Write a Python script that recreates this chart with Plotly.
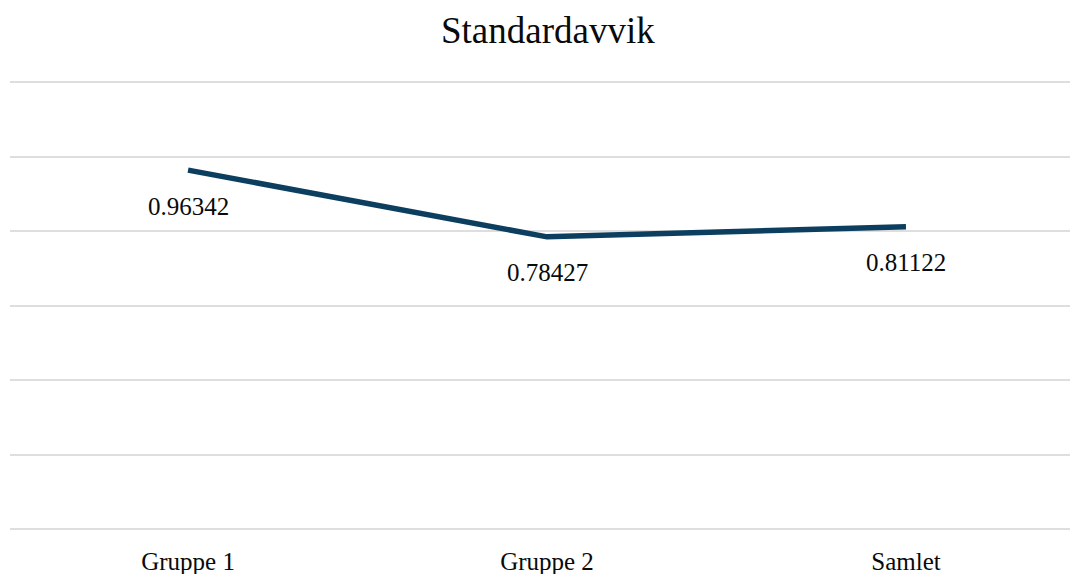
import plotly.graph_objects as go

# Standard deviation per group
categories = ["Gruppe 1", "Gruppe 2", "Samlet"]
std_values = [0.96342, 0.78427, 0.81122]
grid_ticks = [0, 0.2, 0.4, 0.6, 0.8, 1.0, 1.2]

FONT = "Liberation Serif, Times New Roman, serif"
LINE_COLOR = "#0c3e5f"
TEXT_COLOR = "#0a0a0a"

fig = go.Figure()
fig.add_trace(go.Scatter(
    x=categories,
    y=std_values,
    mode="lines",
    line=dict(color=LINE_COLOR, width=5.5),
    hoverinfo="x+y",
    showlegend=False,
))

# Value labels below each point
for cat, val in zip(categories, std_values):
    fig.add_annotation(
        x=cat, y=val, text=f"{val:.5f}",
        showarrow=False, yshift=-36,
        font=dict(family=FONT, size=25, color=TEXT_COLOR),
    )

fig.update_layout(
    width=1070, height=574,
    margin=dict(l=10, r=0, t=80, b=43),
    paper_bgcolor="white", plot_bgcolor="white",
    title=dict(
        text="Standardavvik", x=0.512, xanchor="center",
        y=1 - 30 / 574, yanchor="middle",
        font=dict(family=FONT, size=37, color=TEXT_COLOR),
    ),
    font=dict(family=FONT, size=25, color=TEXT_COLOR),
    xaxis=dict(
        type="category",
        range=[-0.496, 2.457],
        showgrid=False, showline=False, zeroline=False,
        ticks="", ticklabelstandoff=13,
        tickfont=dict(family=FONT, size=25, color=TEXT_COLOR),
    ),
    yaxis=dict(
        range=[-0.00537, 1.20537],
        tickvals=grid_ticks, showticklabels=False,
        showgrid=True, gridcolor="#dedede", gridwidth=2,
        zeroline=False, showline=False, ticks="",
    ),
)

fig.write_html("out.html")
